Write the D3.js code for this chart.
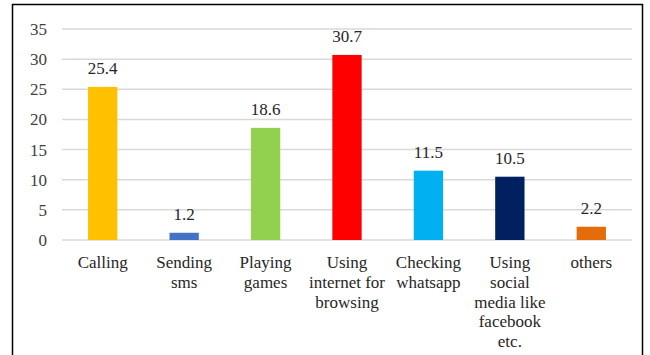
<!DOCTYPE html>
<html>
<head>
<meta charset="utf-8">
<script src="https://cdn.jsdelivr.net/npm/d3@7"></script>
<style>
  body { margin: 0; background: #fff; }
  svg text { font-family: "Liberation Serif", "Times New Roman", Tinos, "DejaVu Serif", serif !important; }
</style>
</head>
<body>
<svg width="650" height="355"></svg>
<script>
// chart data
const categories = ['Calling', 'Sending\nsms', 'Playing\ngames', 'Using\ninternet for\nbrowsing',
  'Checking\nwhatsapp', 'Using\nsocial\nmedia like\nfacebook\netc.', 'others']
const values = [25.4, 1.2, 18.6, 30.7, 11.5, 10.5, 2.2]
const colors = ['#FFC000', '#4472C4', '#92D050', '#FF0000', '#00B0F0', '#002060', '#E46C0A']
const yTicks = [0, 5, 10, 15, 20, 25, 30, 35]

const FONT = '"Liberation Serif", "Times New Roman", serif'

let svg = d3.select('svg')
let margin = { top: 29, right: 18, bottom: 115, left: 62 }
let width = 650 - margin.left - margin.right
let height = 355 - margin.top - margin.bottom

// outer frame
svg.append('rect')
  .attr('x', 12.5).attr('y', 4.5)
  .attr('width', 630).attr('height', 360)
  .attr('fill', 'none').attr('stroke', '#000').attr('stroke-width', 1.5)

let g = svg.append('g')
  .attr('transform', 'translate(' + margin.left + ',' + margin.top + ')')

let x = d3.scaleBand()
  .domain(categories)
  .range([0, width])
  .paddingInner(0.64)
  .paddingOuter(0.32)

let y = d3.scaleLinear()
  .domain([0, 35])
  .range([height, 0])

// gridlines
g.append('g')
  .selectAll('line')
  .data(yTicks)
  .enter()
  .append('line')
  .attr('x1', 0).attr('x2', width)
  .attr('y1', d => y(d)).attr('y2', d => y(d))
  .attr('stroke', '#d9d9d9').attr('stroke-width', 1.5)

// y axis labels
let yAxis = g.append('g')
  .call(d3.axisLeft(y).tickValues(yTicks).tickSize(0).tickPadding(15))
  .attr('font-family', FONT)
yAxis.select('.domain').remove()
yAxis.selectAll('text')
  .attr('font-size', 17)
  .attr('fill', '#404040')

// bars
g.selectAll('.bar')
  .data(values)
  .enter()
  .append('rect')
  .attr('class', 'bar')
  .attr('x', (d, i) => x(categories[i]))
  .attr('y', d => y(d))
  .attr('width', x.bandwidth())
  .attr('height', d => height - y(d))
  .attr('fill', (d, i) => colors[i])

// value labels
g.selectAll('.val')
  .data(values)
  .enter()
  .append('text')
  .attr('class', 'val')
  .attr('x', (d, i) => x(categories[i]) + x.bandwidth() / 2)
  .attr('y', d => y(d) - 13)
  .attr('text-anchor', 'middle')
  .attr('font-family', FONT)
  .attr('font-size', 17)
  .attr('fill', '#262626')
  .text(d => d)

// category labels, one tspan per line
let cat = g.selectAll('.cat')
  .data(categories)
  .enter()
  .append('text')
  .attr('class', 'cat')
  .attr('text-anchor', 'middle')
  .attr('font-family', FONT)
  .attr('font-size', 17)
  .attr('fill', '#262626')
  .attr('transform', d => 'translate(' + (x(d) + x.bandwidth() / 2) + ',' + (height + 28) + ')')

cat.selectAll('tspan')
  .data(d => d.split('\n'))
  .enter()
  .append('tspan')
  .attr('x', 0)
  .attr('y', (d, i) => i * 19.8)
  .text(d => d)
</script>
</body>
</html>
